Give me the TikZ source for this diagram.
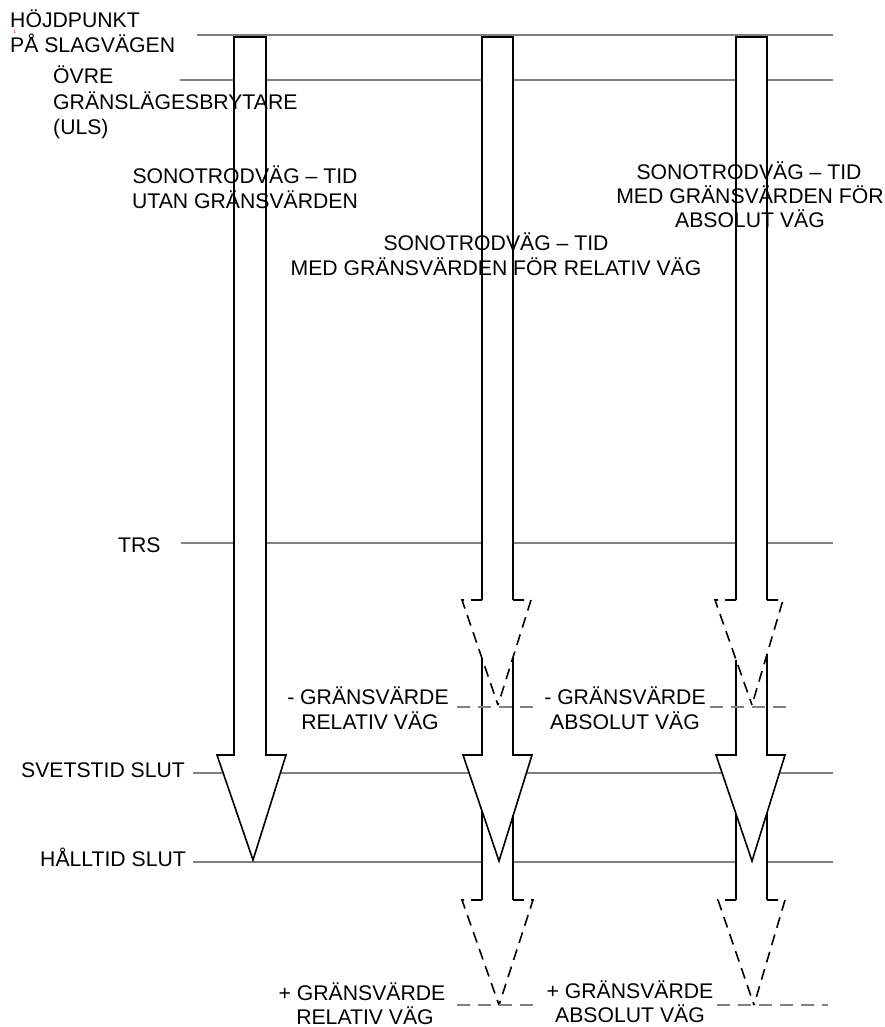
\documentclass[tikz,border=0pt]{standalone}
\usepackage{fontspec}
\setmainfont{Liberation Sans}
\definecolor{guidegray}{RGB}{128,128,128}
\begin{document}
\begin{tikzpicture}[x=1pt,y=-1pt,
  lbl/.style={font=\fontsize{21.2}{24}\selectfont, inner sep=0pt, anchor=base},
  lblw/.style={lbl, anchor=base west},
  guide/.style={draw=guidegray, line width=1.3pt},
  limitline/.style={draw=guidegray, line width=1.3pt, dash pattern=on 13pt off 8pt},
  arrowline/.style={draw=black, line width=1.6pt, line join=miter},
  headdash/.style={arrowline, dash pattern=on 11pt off 7pt},
  whitefill/.style={fill=white}]
\useasboundingbox (0,0) rectangle (885,1027);

% ---- guide lines ----
\coordinate (top-l) at (197,35);  \coordinate (top-r) at (833,35);
\coordinate (uls-l) at (180,80);  \coordinate (uls-r) at (833,80);
\coordinate (trs-l) at (181,543); \coordinate (trs-r) at (833,543);
\coordinate (svt-l) at (193,773); \coordinate (svt-r) at (833,773);
\coordinate (hlt-l) at (193,862); \coordinate (hlt-r) at (833,862);
\draw[guide] (uls-l) -- (uls-r);
\draw[guide] (trs-l) -- (trs-r);
\draw[guide] (svt-l) -- (svt-r);
\draw[guide] (hlt-l) -- (hlt-r);

% ---- white fills ----
\path[whitefill] (234,37) -- (234,755) -- (217,755) -- (253,860) -- (286,755) -- (266,755) -- (266,37) -- cycle;
\path[whitefill] (482,37) rectangle (513,600);
\path[whitefill] (482,657) -- (482,755) -- (463,755) -- (499,861) -- (532,755) -- (513,755) -- (513,657) -- cycle;
\path[whitefill] (482,811) rectangle (513,900);
\path[whitefill] (736,37) rectangle (767,600);
\path[whitefill] (736,654) -- (736,755) -- (716,755) -- (752,861) -- (785,755) -- (767,755) -- (767,654) -- cycle;
\path[whitefill] (736,813) rectangle (767,900);

\draw[guide] (top-l) -- (top-r);

% ---- arrow 1: without limits ----
\draw[arrowline] (234,37) -- (234,755) -- (217,755) -- (253,860) -- (286,755) -- (266,755) -- (266,37) -- cycle;

% ---- arrow 2: relative distance ----
\draw[arrowline] (482,600) -- (482,37) -- (513,37) -- (513,600);
\draw[headdash] (482,600) -- (462,600) -- (498,705);
\draw[headdash] (513,600) -- (531,600) -- (498,705);
\draw[arrowline] (482,658) -- (482,755) -- (463,755) -- (499,861) -- (532,755) -- (513,755) -- (513,657);
\draw[arrowline] (482,811) -- (482,900);
\draw[arrowline] (513,815) -- (513,900);
\draw[headdash] (482,900) -- (462,900) -- (499,1005);
\draw[headdash] (513,900) -- (533,900) -- (499,1005);

% ---- arrow 3: absolute distance ----
\draw[arrowline] (736,600) -- (736,37) -- (767,37) -- (767,600);
\draw[headdash] (736,600) -- (715,600) -- (752,705);
\draw[headdash] (767,600) -- (783,600) -- (752,705);
\draw[arrowline] (736,660) -- (736,755) -- (716,755) -- (752,861) -- (785,755) -- (767,755) -- (767,654);
\draw[arrowline] (736,814) -- (736,900);
\draw[arrowline] (767,813) -- (767,900);
\draw[headdash] (736,900) -- (718,900) -- (754,1005);
\draw[headdash] (767,900) -- (785,900) -- (754,1005);

% ---- limit lines ----
\draw[limitline] (457,707) -- (533,707);
\draw[limitline] (710,707) -- (788,707);
\draw[limitline] (457,1005) -- (533,1005);
\draw[limitline] (717,1005) -- (828,1005);

% ---- labels ----
\node[lblw] (hp1) at (10,28) {HÖJDPUNKT};
\node[lblw] (hp2) at (10,53) {PÅ SLAGVÄGEN};
\node[font=\fontsize{4.5}{5}\selectfont, text=red!55!black, inner sep=0pt, anchor=base] (fn) at (15,33.2) {1};
\node[lblw] (uls1) at (53,84) {ÖVRE};
\node[lblw] (uls2) at (53,110) {GRÄNSLÄGESBRYTARE};
\node[lblw] (uls3) at (53,135) {(ULS)};

\node[lbl] (a1t1) at (245,184) {SONOTRODVÄG – TID};
\node[lbl] (a1t2) at (245,208) {UTAN GRÄNSVÄRDEN};

\node[lbl] (a2t1) at (496,250) {SONOTRODVÄG – TID};
\node[lbl] (a2t2) at (496,275) {MED GRÄNSVÄRDEN FÖR RELATIV VÄG};

\node[lbl] (a3t1) at (749,179) {SONOTRODVÄG – TID};
\node[lbl] (a3t2) at (750,203) {MED GRÄNSVÄRDEN FÖR};
\node[lbl] (a3t3) at (750,227) {ABSOLUT VÄG};

\node[lblw] (trs) at (118,552) {TRS};
\node[lblw] (svt) at (21,777) {SVETSTID SLUT};
\node[lblw] (hlt) at (40,866) {HÅLLTID SLUT};

\node[lbl] (mr1) at (368,704) {- GRÄNSVÄRDE};
\node[lbl] (mr2) at (370,729) {RELATIV VÄG};
\node[lbl] (ma1) at (625,704) {- GRÄNSVÄRDE};
\node[lbl] (ma2) at (625,729) {ABSOLUT VÄG};

\node[lbl] (pr1) at (362,1000) {+ GRÄNSVÄRDE};
\node[lbl] (pr2) at (365,1024) {RELATIV VÄG};
\node[lbl] (pa1) at (630,998) {+ GRÄNSVÄRDE};
\node[lbl] (pa2) at (630,1022) {ABSOLUT VÄG};
\end{tikzpicture}
\end{document}
